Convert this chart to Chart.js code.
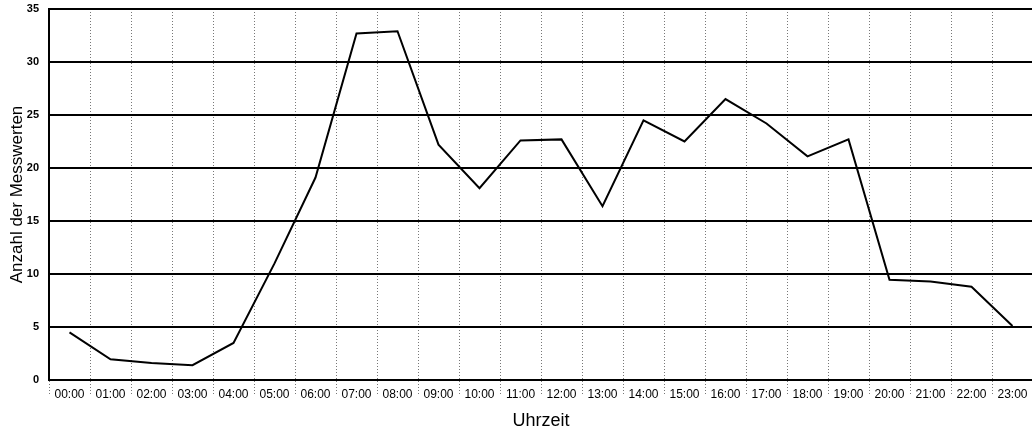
<!DOCTYPE html>
<html>
<head>
<meta charset="utf-8">
<script src="https://cdn.jsdelivr.net/npm/chart.js@4/dist/chart.umd.min.js"></script>
<style>
  html, body { margin: 0; padding: 0; background: #fff; overflow: hidden; }
</style>
</head>
<body>
<canvas id="myLineChart" width="1040" height="432"></canvas>
<script>
// Stunden (Kategorien)
const hours = ['00:00', '01:00', '02:00', '03:00', '04:00', '05:00', '06:00', '07:00',
               '08:00', '09:00', '10:00', '11:00', '12:00', '13:00', '14:00', '15:00',
               '16:00', '17:00', '18:00', '19:00', '20:00', '21:00', '22:00', '23:00'];

const counts = [4.5, 1.95, 1.6, 1.4, 3.5, 11.0, 19.1, 32.7, 32.9, 22.2, 18.1, 22.6,
                22.7, 16.4, 24.5, 22.5, 26.5, 24.2, 21.1, 22.7, 9.45, 9.3, 8.8, 5.1];

const yMin = 0;
const yMax = 35;
const yStep = 5;

function initLineChart() {
    const ctx = document.getElementById('myLineChart');
    if (!ctx) return;
    new Chart(ctx, {
        type: 'line',
        data: {
            labels: hours,
            datasets: [{
                label: 'Anzahl der Messwerten',
                data: counts,
                borderColor: '#000',
                borderWidth: 2,
                pointRadius: 0,
                tension: 0,
                fill: false
            }]
        },
        options: {
            responsive: false,
            animation: false,
            layout: { padding: { top: 9, right: 7, left: 0, bottom: 0 } },
            scales: {
                x: {
                    offset: true,
                    grid: {
                        offset: true,
                        color: '#777',
                        lineWidth: 1,
                        tickLength: 16,
                        tickColor: '#777',
                        tickBorderDash: [1, 2]
                    },
                    border: { display: true, color: '#000', width: 2, dash: [1, 2] },
                    ticks: {
                        color: '#000',
                        font: { family: 'Liberation Sans, Arial', size: 12 },
                        padding: -9,
                        maxRotation: 0,
                        autoSkip: false
                    },
                    title: {
                        display: true,
                        text: 'Uhrzeit',
                        color: '#000',
                        font: { family: 'Liberation Sans, Arial', size: 18 },
                        padding: { top: 0, bottom: 0 }
                    },
                    afterFit: (scale) => { scale.height = 52; }
                },
                y: {
                    min: yMin,
                    max: yMax,
                    grid: { color: '#000', lineWidth: 2, drawTicks: false },
                    border: { display: true, color: '#000', width: 2 },
                    ticks: {
                        stepSize: yStep,
                        color: '#000',
                        padding: 10,
                        font: { family: 'Liberation Sans, Arial', size: 11, weight: 'bold' }
                    },
                    title: {
                        display: true,
                        text: 'Anzahl der Messwerten',
                        color: '#000',
                        font: { family: 'Liberation Sans, Arial', size: 17 },
                        padding: { top: 7, bottom: 0 }
                    },
                    afterFit: (scale) => {
                        scale.width = 49;
                        scale.paddingTop = 0;
                    }
                }
            },
            plugins: {
                legend: { display: false },
                tooltip: { enabled: false }
            }
        }
    });
}

initLineChart();
</script>
</body>
</html>
